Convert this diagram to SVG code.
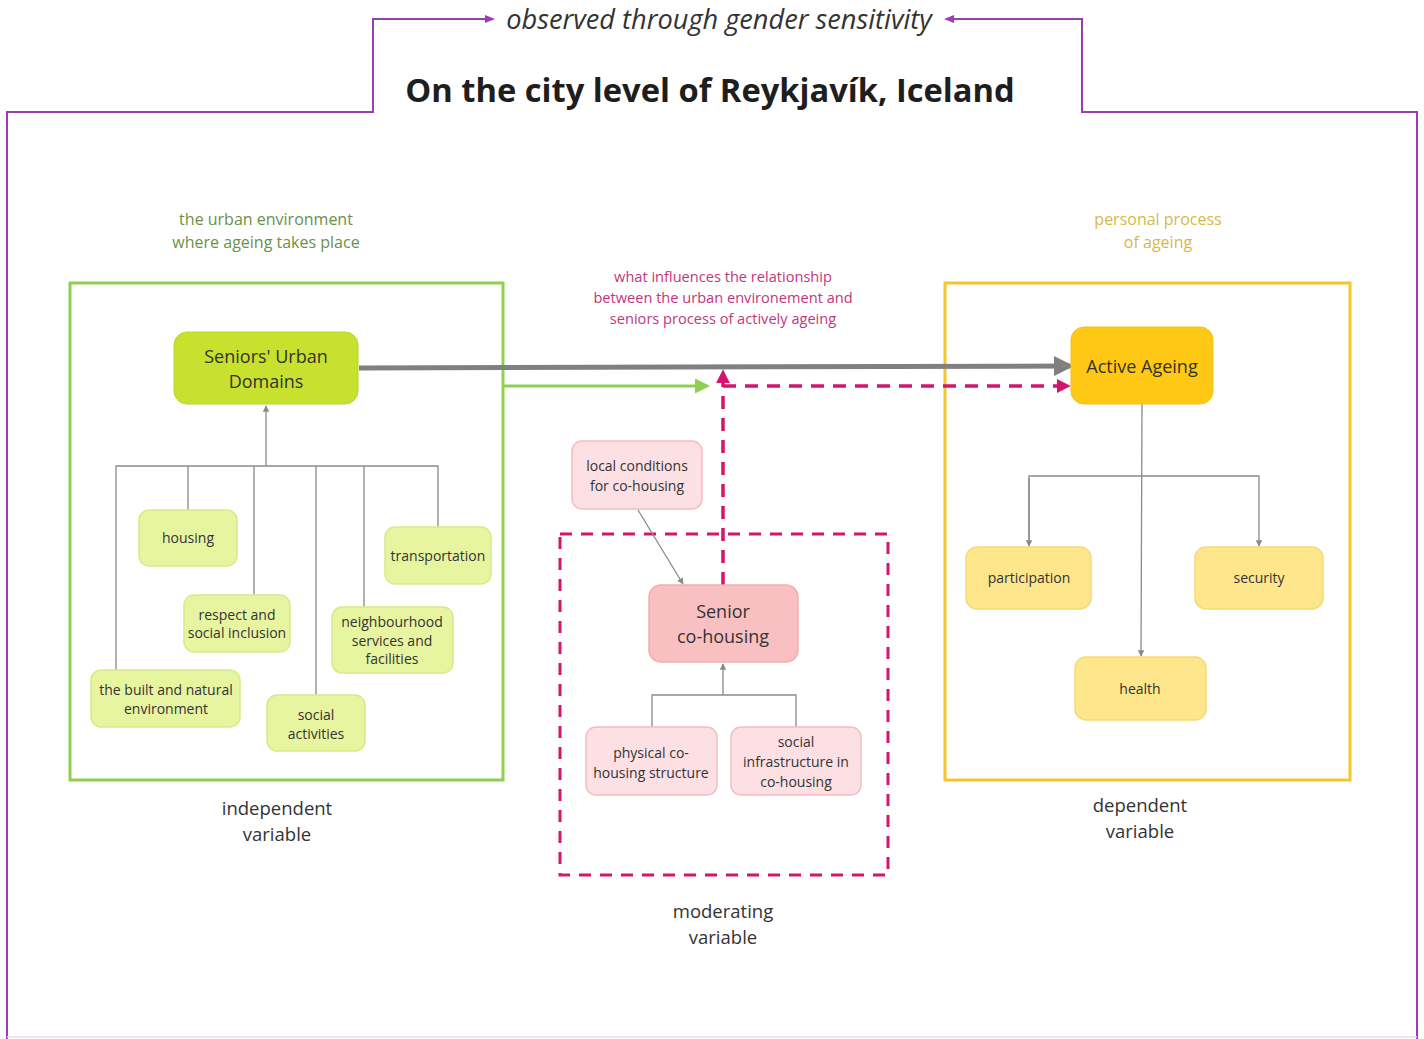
<svg xmlns="http://www.w3.org/2000/svg" width="1424" height="1039" viewBox="0 0 1424 1039">
<defs>
<style>
text{font-family:"Open Sans","Noto Sans","Liberation Sans",sans-serif;fill:#333;text-anchor:middle}
.t14{font-size:14px}
.mid{font-size:14.6px}
.t18{font-size:18px}
.lbl{font-size:18.5px}
.cap{font-size:16px}
.lime{fill:#e8f5a0;stroke:#d8ea8a;stroke-width:1.5}
.pink{fill:#fde0e3;stroke:#f3bcc2;stroke-width:1.5}
.yel{fill:#fde68c;stroke:#f6da78;stroke-width:1.5}
.thin{fill:none;stroke:#8a8a8a;stroke-width:1.3}
</style>
<marker id="ag" viewBox="0 0 10 10" refX="9" refY="5" markerWidth="5" markerHeight="5" orient="auto"><path d="M0,0L10,5L0,10z" fill="#8a8a8a"/></marker>
<marker id="agb" viewBox="0 0 10 10" refX="8" refY="5" markerWidth="4" markerHeight="4" orient="auto"><path d="M0,0L10,5L0,10z" fill="#808080"/></marker>
<marker id="agr" viewBox="0 0 10 10" refX="8" refY="5" markerWidth="5" markerHeight="5" orient="auto"><path d="M0,0L10,5L0,10z" fill="#8ccf52"/></marker>
<marker id="am" viewBox="0 0 10 10" refX="8" refY="5" markerWidth="4" markerHeight="4" orient="auto"><path d="M0,0L10,5L0,10z" fill="#d4156e"/></marker>
<marker id="ap" viewBox="0 0 10 10" refX="8" refY="5" markerWidth="5" markerHeight="5" orient="auto"><path d="M0,1L10,5L0,9z" fill="#9b3fb0"/></marker>
</defs>
<rect width="1424" height="1039" fill="#fff"/>

<g id="frame">
<path d="M7,1039 V112 H373 V19 H493" fill="none" stroke="#9b3fb0" stroke-width="2" marker-end="url(#ap)"/>
<path d="M1417,1039 V112 H1082 V19 H946" fill="none" stroke="#9b3fb0" stroke-width="2" marker-end="url(#ap)"/>
<line x1="7" y1="1037" x2="1417" y2="1037" stroke="#f6d0f6" stroke-width="1.5"/>
<text x="719" y="29" style="font-size:27.2px;font-style:italic">observed through gender sensitivity</text>
<text x="710" y="102" style="font-size:32.7px;font-weight:bold;fill:#1e1e1e">On the city level of Reykjavík, Iceland</text>
</g>

<g id="independent">
<rect x="70" y="283" width="433" height="497" fill="none" stroke="#8fd14f" stroke-width="3"/>
<text class="cap" x="266" y="225" style="fill:#6b9148">the urban environment</text>
<text class="cap" x="266" y="248" style="fill:#6b9148">where ageing takes place</text>
<text class="lbl" x="277" y="815">independent</text>
<text class="lbl" x="277" y="841">variable</text>
</g>

<g id="moderating">
<rect x="560" y="534" width="328" height="341" fill="none" stroke="#d4156e" stroke-width="3" stroke-dasharray="12,9"/>
<text class="mid" x="723" y="282" style="fill:#c2367e">what influences the relationship</text>
<text class="mid" x="723" y="303" style="fill:#c2367e">between the urban environement and</text>
<text class="mid" x="723" y="324" style="fill:#c2367e">seniors process of actively ageing</text>
<text class="lbl" x="723" y="918">moderating</text>
<text class="lbl" x="723" y="944">variable</text>
</g>

<g id="dependent">
<rect x="945" y="283" width="405" height="497" fill="none" stroke="#f2c62c" stroke-width="3"/>
<text class="cap" x="1158" y="225" style="fill:#d7b848">personal process</text>
<text class="cap" x="1158" y="248" style="fill:#d7b848">of ageing</text>
<text class="lbl" x="1140" y="812">dependent</text>
<text class="lbl" x="1140" y="838">variable</text>
</g>

<g id="connectors">
<line x1="359" y1="368" x2="1070" y2="366" stroke="#808080" stroke-width="5" marker-end="url(#agb)"/>
<line x1="503" y1="386" x2="707" y2="386" stroke="#8ccf52" stroke-width="3" marker-end="url(#agr)"/>
<path d="M723,585 V372" fill="none" stroke="#d4156e" stroke-width="3.5" stroke-dasharray="13,9" marker-end="url(#am)"/>
<path d="M723,386 H1068" fill="none" stroke="#d4156e" stroke-width="3.5" stroke-dasharray="13,9" marker-end="url(#am)"/>
<path class="thin" d="M116,670 V466 H438 V527 M188,466 V510 M254,466 V595 M316,466 V695 M364,466 V607"/>
<line class="thin" x1="266" y1="466" x2="266" y2="406" marker-end="url(#ag)"/>
<line class="thin" x1="638" y1="510" x2="683" y2="584" marker-end="url(#ag)"/>
<path class="thin" d="M652,727 V695 H796 V727"/>
<line class="thin" x1="723" y1="695" x2="723" y2="664" marker-end="url(#ag)"/>
<line class="thin" x1="1142" y1="404" x2="1141" y2="656" marker-end="url(#ag)"/>
<path class="thin" d="M1029,546 V476 H1259 V546" marker-end="url(#ag)"/>
<line class="thin" x1="1029" y1="478" x2="1029" y2="546" marker-end="url(#ag)"/>
</g>

<g id="n-urban"><rect x="174" y="332" width="184" height="72" rx="13" fill="#c8e02e" stroke="#bcd62a"/><text class="t18" x="266" y="363">Seniors' Urban</text><text class="t18" x="266" y="388">Domains</text></g>
<g id="n-housing"><rect class="lime" x="139" y="510" width="98" height="56" rx="10"/><text class="t14" x="188" y="543">housing</text></g>
<g id="n-transport"><rect class="lime" x="385" y="527" width="106" height="57" rx="10"/><text class="t14" x="438" y="561">transportation</text></g>
<g id="n-respect"><rect class="lime" x="184" y="595" width="106" height="57" rx="10"/><text class="t14" x="237" y="620">respect and</text><text class="t14" x="237" y="638">social inclusion</text></g>
<g id="n-neigh"><rect class="lime" x="332" y="607" width="121" height="66" rx="10"/><text class="t14" x="392" y="627">neighbourhood</text><text class="t14" x="392" y="646">services and</text><text class="t14" x="392" y="664">facilities</text></g>
<g id="n-built"><rect class="lime" x="91" y="670" width="149" height="57" rx="10"/><text class="t14" x="166" y="695">the built and natural</text><text class="t14" x="166" y="714">environment</text></g>
<g id="n-social"><rect class="lime" x="267" y="695" width="98" height="56" rx="10"/><text class="t14" x="316" y="720">social</text><text class="t14" x="316" y="739">activities</text></g>

<g id="n-local"><rect class="pink" x="572" y="441" width="130" height="68" rx="10"/><text class="t14" x="637" y="471">local conditions</text><text class="t14" x="637" y="491">for co-housing</text></g>
<g id="n-cohousing"><rect x="649" y="585" width="149" height="77" rx="12" fill="#f9c0c2" stroke="#f1aeb2" stroke-width="1.5"/><text class="t18" x="723" y="618">Senior</text><text class="t18" x="723" y="643">co-housing</text></g>
<g id="n-physical"><rect class="pink" x="586" y="727" width="131" height="68" rx="10"/><text class="t14" x="651" y="758">physical co-</text><text class="t14" x="651" y="778">housing structure</text></g>
<g id="n-socinfra"><rect class="pink" x="731" y="727" width="130" height="68" rx="10"/><text class="t14" x="796" y="747">social</text><text class="t14" x="796" y="767">infrastructure in</text><text class="t14" x="796" y="787">co-housing</text></g>

<g id="n-active"><rect x="1071" y="327" width="142" height="77" rx="13" fill="#fec814" stroke="#f5c010"/><text class="t18" x="1142" y="373">Active Ageing</text></g>
<g id="n-participation"><rect class="yel" x="966" y="547" width="125" height="62" rx="11"/><text class="t14" x="1029" y="583">participation</text></g>
<g id="n-security"><rect class="yel" x="1195" y="547" width="128" height="62" rx="11"/><text class="t14" x="1259" y="583">security</text></g>
<g id="n-health"><rect class="yel" x="1075" y="657" width="131" height="63" rx="11"/><text class="t14" x="1140" y="694">health</text></g>
</svg>
